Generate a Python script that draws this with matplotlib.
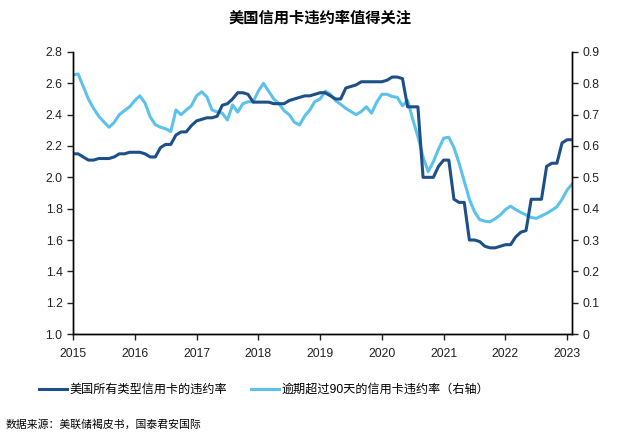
import matplotlib
matplotlib.use('Agg')
import matplotlib.pyplot as plt
import numpy as np

plt.rcParams['font.family'] = ['Liberation Sans', 'Noto Sans CJK SC', 'DejaVu Sans']

# monthly, Jan 2015 .. Feb 2023
start_year = 2015
all_cards = [2.15, 2.15, 2.13, 2.11, 2.11, 2.12, 2.12, 2.12, 2.13, 2.15, 2.15, 2.16,
             2.16, 2.16, 2.15, 2.13, 2.13, 2.19, 2.21, 2.21, 2.27, 2.29, 2.29, 2.33,
             2.36, 2.37, 2.38, 2.38, 2.39, 2.46, 2.47, 2.50, 2.54, 2.54, 2.53, 2.48,
             2.48, 2.48, 2.48, 2.47, 2.47, 2.47, 2.49, 2.50, 2.51, 2.52, 2.52, 2.53,
             2.54, 2.54, 2.52, 2.50, 2.50, 2.57, 2.58, 2.59, 2.61, 2.61, 2.61, 2.61,
             2.61, 2.62, 2.64, 2.64, 2.63, 2.45, 2.45, 2.45, 2.00, 2.00, 2.00, 2.07,
             2.11, 2.11, 1.86, 1.84, 1.84, 1.60, 1.60, 1.59, 1.56, 1.55, 1.55, 1.56,
             1.57, 1.57, 1.62, 1.65, 1.66, 1.86, 1.86, 1.86, 2.07, 2.09, 2.09, 2.22,
             2.24, 2.24]
over_90 = [0.827, 0.83, 0.79, 0.75, 0.72, 0.695, 0.677, 0.66, 0.675, 0.70, 0.713, 0.725,
           0.745, 0.76, 0.737, 0.693, 0.668, 0.66, 0.655, 0.646, 0.715, 0.70, 0.715, 0.728,
           0.76, 0.773, 0.757, 0.715, 0.709, 0.705, 0.683, 0.731, 0.708, 0.735, 0.741, 0.741,
           0.775, 0.80, 0.775, 0.75, 0.735, 0.713, 0.70, 0.676, 0.667, 0.695, 0.715, 0.742,
           0.75, 0.775, 0.765, 0.745, 0.733, 0.72, 0.71, 0.70, 0.71, 0.725, 0.705, 0.74,
           0.765, 0.765, 0.758, 0.755, 0.728, 0.745, 0.685, 0.63, 0.565, 0.518, 0.55, 0.59,
           0.625, 0.628, 0.595, 0.545, 0.488, 0.43, 0.39, 0.365, 0.36, 0.358, 0.368, 0.38,
           0.397, 0.408, 0.397, 0.388, 0.38, 0.372, 0.369, 0.377, 0.385, 0.395, 0.406, 0.43,
           0.46, 0.479]
years = [2015, 2016, 2017, 2018, 2019, 2020, 2021, 2022, 2023]

label_all = '美国所有类型信用卡的违约率'
label_90 = '逾期超过90天的信用卡违约率（右轴）'
title = '美国信用卡违约率值得关注'
source = '数据来源：美联储褐皮书，国泰君安国际'

dark = '#1d4f88'
light = '#5cc2ea'

x = start_year + np.arange(len(all_cards)) / 12

fig = plt.figure(figsize=(6.4, 4.34), dpi=100)
ax = fig.add_axes([0.114, 0.2304, 0.78, 0.6498])
ax2 = ax.twinx()

l1, = ax.plot(x, all_cards, color=dark, lw=2.2, label=label_all)
l2, = ax2.plot(x, over_90, color=light, lw=2.2, label=label_90)
ax.set_zorder(ax2.get_zorder() + 1)
ax.patch.set_visible(False)

ax.set_xlim(2015, 2023.08)
ax.set_ylim(1.0, 2.8)
ax2.set_ylim(0, 0.9)
ax.set_yticks(np.arange(1.0, 2.81, 0.2))
ax.set_yticklabels(['%.1f' % v for v in np.arange(1.0, 2.81, 0.2)])
ax2.set_yticks(np.arange(0, 0.91, 0.1))
ax2.set_yticklabels(['0'] + ['%.1f' % v for v in np.arange(0.1, 0.91, 0.1)])
ax.set_xticks(years)
ax.set_xticklabels([str(y) for y in years])

for a in (ax, ax2):
    a.spines['top'].set_visible(False)
    for s in ('left', 'right', 'bottom'):
        a.spines[s].set_linewidth(1.0)
        a.spines[s].set_color('black')
    a.tick_params(direction='out', length=4, width=1, labelsize=8.8, colors='#222222')
ax.tick_params(axis='x', pad=6)

fig.text(0.5, 0.958, title, ha='center', va='center', fontsize=11, fontweight='bold')
fig.legend(handles=[l1, l2], loc='center', bbox_to_anchor=(0.4125, 0.101), ncol=2,
           frameon=False, fontsize=8.7, handlelength=2.3, handletextpad=0.2,
           columnspacing=2.0)
fig.text(0.008, 0.021, source, ha='left', va='center', fontsize=7.8, style='italic')

fig.savefig('out.png', dpi=100)
